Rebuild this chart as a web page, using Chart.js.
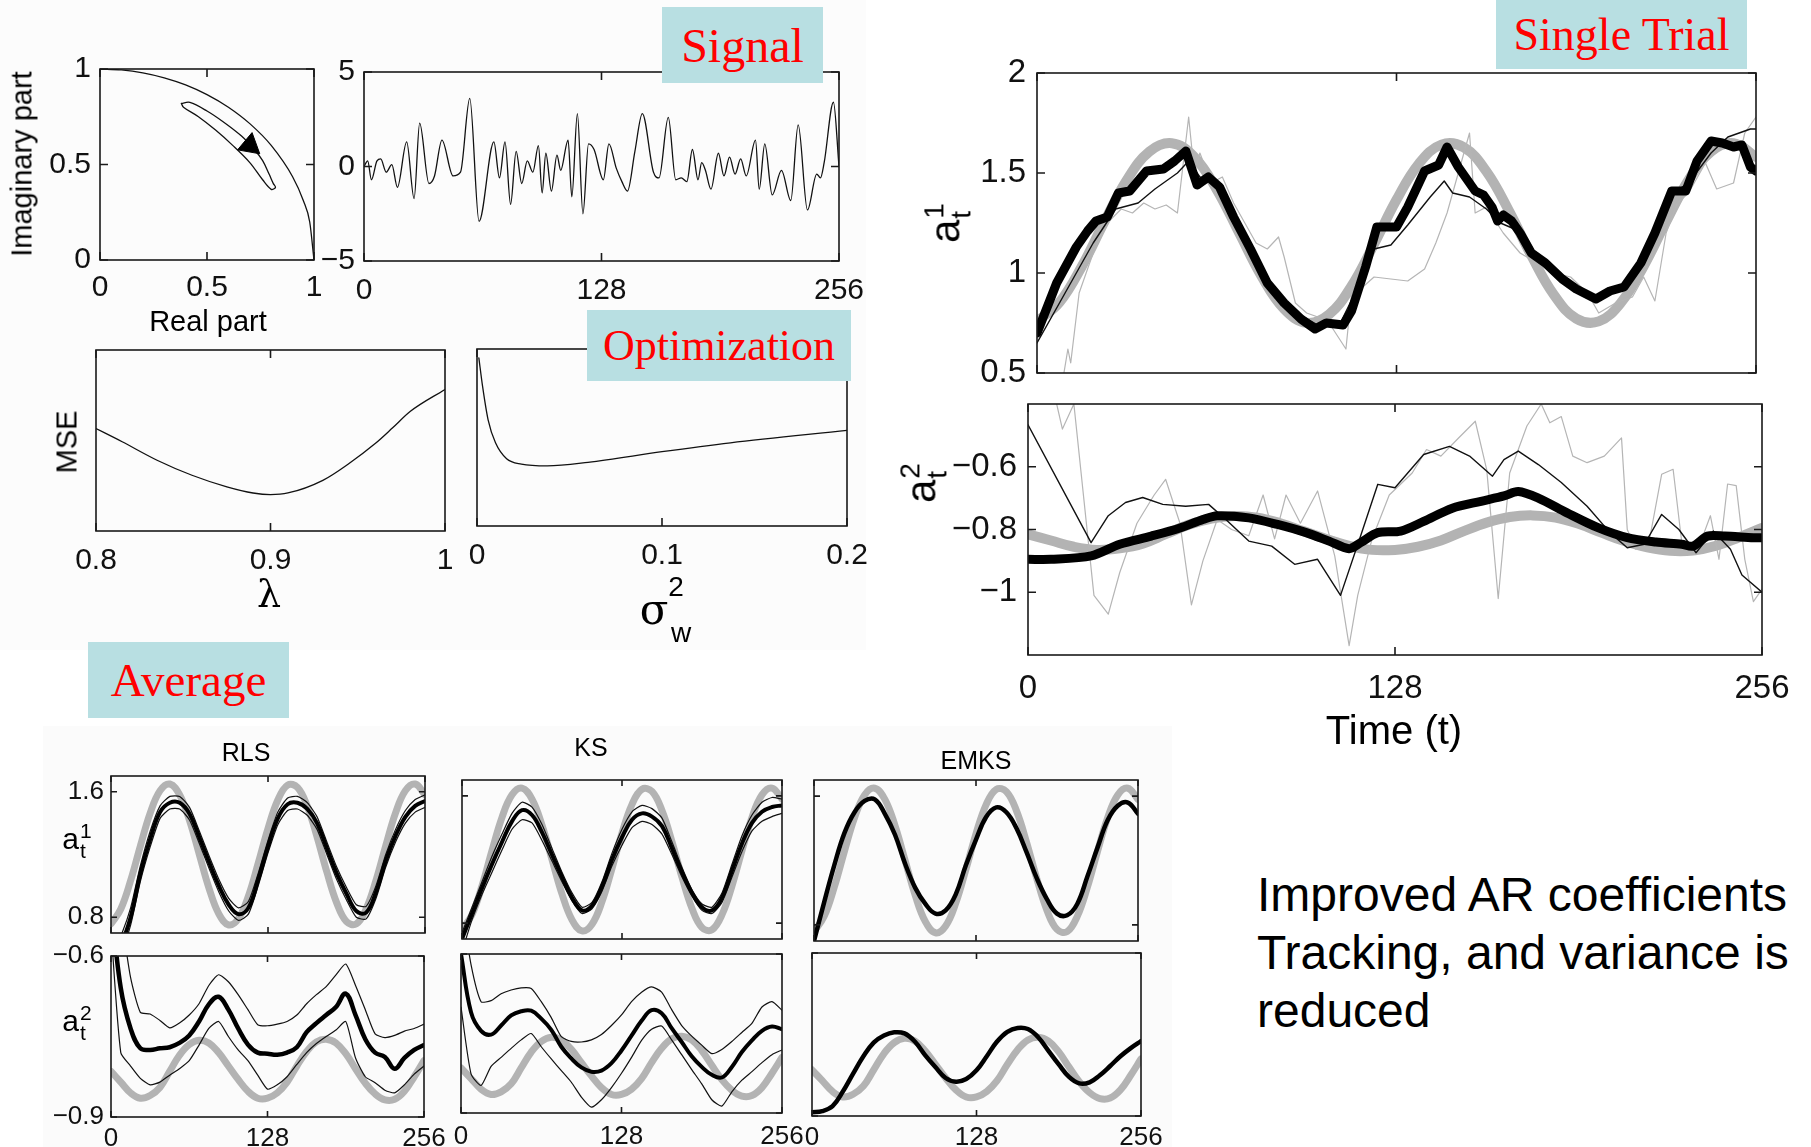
<!DOCTYPE html>
<html>
<head>
<meta charset="utf-8">
<script src="https://cdn.jsdelivr.net/npm/chart.js@4.4.1/dist/chart.umd.min.js"></script>
<style>
html, body { margin: 0; padding: 0; background: #fff; }
#page { position: relative; width: 1811px; height: 1147px; overflow: hidden; font-family: "Liberation Sans", Arial, sans-serif; color: #000; }
.bg { position: absolute; }
.pnl { position: absolute; }
.tag { position: absolute; z-index: 5; background: #b8dfe2; color: #f00; font-family: "Liberation Serif", "Times New Roman", serif; display: flex; align-items: center; justify-content: center; }
.lab { position: absolute; white-space: nowrap; transform: translate(-50%, -50%); line-height: 1; z-index: 4; }
.rot { transform: translate(-50%, -50%) rotate(-90deg); }
.stk { display: inline-flex; flex-direction: column; vertical-align: middle; line-height: 0.95; margin-left: 1px; }
.note { position: absolute; font-size: 48px; line-height: 58px; z-index: 4; }
</style>
</head>
<body>
<div id="page"></div>
<script>
// ---- data ----
const T8 = [0,8,16,24,32,40,48,56,64,72,80,88,96,104,112,120,128,136,144,152,160,168,176,184,192,200,208,216,224,232,240,248,256];

// pole plot
const ARC_X = [0, 0.1, 0.2, 0.3, 0.4, 0.5, 0.6, 0.7, 0.8, 0.9, 0.95, 0.98, 1];
const ARC_Y = [1, 0.995, 0.98, 0.954, 0.917, 0.866, 0.8, 0.714, 0.6, 0.436, 0.312, 0.199, 0];
const LOOP_X = [0.38,0.42,0.50,0.58,0.66,0.72,0.76,0.79,0.81,0.82,0.80,0.76,0.70,0.62,0.54,0.46,0.39,0.38];
const LOOP_Y = [0.82,0.825,0.78,0.72,0.65,0.58,0.52,0.45,0.40,0.38,0.37,0.42,0.51,0.60,0.68,0.75,0.80,0.82];
const ARROW = [0.70, 0.60];

// signal
const SIG_T = [0,2,4,7,9,12,15,18,23,27,30,35,38,42,48,52,57,62,70,73,76,79,82,85,88,91,94,96,98,101,104,106,110,112,115,118,121,124,129,132,136,139,142,146,150,156,159,164,168,171,174,177,180,182,184,187,191,194,197,200,203,206,211,213,216,220,225,230,234,239,244,246,248,253,256];
const SIG_V = [0,0.3,-0.7,0.3,0.4,-0.3,0.1,-1.1,1.3,-1.7,2.3,-0.9,-0.5,1.4,-0.5,-0.3,3.6,-2.9,1.3,-0.6,1.3,-2.0,0.8,-0.9,0.3,-0.3,1.1,-1.4,0.7,-1.3,0.6,-0.2,1.4,-1.6,2.8,-2.5,1.2,0.9,-0.7,1.2,-0.1,-0.8,-1.3,0.8,2.8,-0.3,-0.6,2.6,-0.7,-0.6,-0.8,0.9,-0.7,0.2,-0.2,-1.2,0.7,-0.5,0.5,-0.4,0.4,-0.5,1.4,-1.2,1.2,-1.5,-0.2,-1.8,2.2,-2.3,-0.4,-0.6,0.2,3.4,0.0];

// optimisation curves (MSE in relative units)
const LAMBDA = [0.8,0.815,0.835,0.855,0.875,0.89,0.9,0.91,0.93,0.945,0.96,0.97,0.98,1.0];
const MSE_LAMBDA = [0.566,0.493,0.391,0.308,0.244,0.21,0.201,0.21,0.28,0.373,0.483,0.57,0.66,0.782];
const SIGW = [0.001,0.003,0.006,0.010,0.016,0.024,0.038,0.06,0.1,0.137,0.2];
const MSE_SIGW = [0.95,0.79,0.60,0.47,0.38,0.35,0.34,0.36,0.42,0.47,0.54];

// true coefficients
const TRUE_A1 = [0.758,0.853,1.034,1.256,1.465,1.607,1.649,1.580,1.417,1.2,0.983,0.820,0.751,0.793,0.935,1.144,1.366,1.547,1.642,1.628,1.508,1.312,1.088,0.892,0.772,0.758,0.853,1.034,1.256,1.465,1.607,1.649,1.580];
const TRUE_A2 = [-0.815,-0.835,-0.855,-0.865,-0.86,-0.845,-0.815,-0.785,-0.765,-0.757,-0.762,-0.78,-0.805,-0.83,-0.852,-0.865,-0.865,-0.855,-0.835,-0.805,-0.778,-0.76,-0.755,-0.762,-0.782,-0.81,-0.837,-0.857,-0.868,-0.867,-0.852,-0.825,-0.795];

// single trial a1
const ST1_BOLD_T = [0,7,14,18,21,25,29,33,36,39,45,49,53,57,61,65,70,76,82,88,94,99,103,109,112,117,121,128,132,138,143,146,150,156,159,162,164,166,169,172,176,181,187,192,199,204,209,215,220,226,231,235,240,244,248,251,254,256];
const ST1_BOLD = [0.70,0.95,1.13,1.21,1.26,1.28,1.40,1.41,1.46,1.51,1.52,1.56,1.61,1.44,1.48,1.43,1.28,1.12,0.95,0.85,0.77,0.72,0.75,0.74,0.81,1.03,1.23,1.23,1.33,1.51,1.54,1.63,1.53,1.41,1.39,1.33,1.26,1.29,1.26,1.20,1.10,1.05,0.97,0.92,0.87,0.91,0.93,1.05,1.20,1.41,1.41,1.56,1.66,1.65,1.63,1.64,1.53,1.51];
const ST1_THIN_T = [0,10,20,28,36,42,50,54,58,64,70,80,90,100,108,115,120,126,132,140,145,148,154,160,165,170,176,184,192,200,208,216,224,232,240,246,250,254,256];
const ST1_THIN = [0.65,0.90,1.15,1.32,1.35,1.42,1.50,1.56,1.48,1.44,1.28,1.00,0.82,0.74,0.75,0.95,1.12,1.14,1.24,1.38,1.46,1.40,1.38,1.32,1.25,1.22,1.12,1.00,0.92,0.87,0.92,1.05,1.38,1.45,1.60,1.68,1.70,1.72,1.72];
const ST1_RAW_T = [9,11,12,15,20,25,30,34,38,42,46,50,54,56,58,62,66,70,74,78,82,86,88,92,96,100,104,110,112,116,120,126,132,138,142,146,150,154,156,160,166,172,178,184,190,196,200,206,212,216,220,224,228,232,238,242,248,252,256];
const ST1_RAW = [0.45,0.62,0.55,0.90,1.10,1.25,1.32,1.30,1.35,1.32,1.34,1.30,1.78,1.50,1.60,1.45,1.48,1.35,1.25,1.15,1.12,1.18,1.08,0.85,0.80,0.78,0.75,0.62,0.90,0.93,0.98,0.97,0.96,1.02,1.15,1.30,1.50,1.70,1.30,1.33,1.20,1.10,1.05,1.00,0.98,0.90,0.80,0.85,0.88,0.98,0.86,1.20,1.35,1.40,1.55,1.42,1.45,1.70,1.78];

// single trial a2
const ST2_BOLD_T = [0,8,22,32,43,53,61,66,77,87,97,105,112,116,122,130,138,148,158,166,171,178,188,199,209,219,228,232,237,243,253,256];
const ST2_BOLD = [-0.895,-0.895,-0.884,-0.847,-0.821,-0.795,-0.768,-0.756,-0.763,-0.784,-0.81,-0.837,-0.861,-0.842,-0.81,-0.805,-0.774,-0.732,-0.71,-0.693,-0.679,-0.70,-0.747,-0.795,-0.826,-0.84,-0.847,-0.853,-0.821,-0.821,-0.826,-0.826];
const ST2_THIN_T = [0,22,28,34,40,47,55,63,69,77,85,93,101,109,116,122,128,138,147,154,162,166,171,178,186,195,203,209,215,221,227,233,239,245,249,256];
const ST2_THIN = [-0.466,-0.842,-0.756,-0.714,-0.698,-0.72,-0.726,-0.72,-0.768,-0.837,-0.853,-0.911,-0.895,-1.01,-0.821,-0.656,-0.667,-0.561,-0.535,-0.566,-0.63,-0.577,-0.55,-0.593,-0.65,-0.726,-0.81,-0.858,-0.847,-0.752,-0.80,-0.874,-0.805,-0.863,-0.945,-1.0];
const ST2_RAW_T = [10,12,16,23,28,32,38,44,48,53,57,61,66,71,77,82,86,90,95,101,107,112,115,120,126,134,139,144,150,156,160,164,168,174,179,182,186,190,195,201,207,209,212,217,221,225,228,233,238,241,244,247,250,253,256];
const ST2_RAW = [-0.40,-0.48,-0.40,-1.01,-1.07,-0.937,-0.78,-0.69,-0.64,-0.78,-1.04,-0.90,-0.768,-0.80,-0.82,-0.69,-0.83,-0.69,-0.78,-0.677,-0.885,-1.17,-1.01,-0.83,-0.69,-0.62,-0.545,-0.566,-0.51,-0.455,-0.61,-1.02,-0.62,-0.47,-0.40,-0.46,-0.44,-0.566,-0.587,-0.566,-0.508,-0.80,-0.863,-0.82,-0.624,-0.608,-0.84,-0.88,-0.756,-0.895,-0.655,-0.66,-0.895,-1.03,-0.99];

// averages, a1
const RLS1_MEAN = [0.50,0.62,0.80,1.08,1.30,1.47,1.53,1.53,1.46,1.31,1.15,1.00,0.88,0.82,0.86,1.04,1.25,1.43,1.52,1.53,1.49,1.40,1.24,1.08,0.95,0.84,0.83,0.96,1.16,1.32,1.44,1.51,1.54];
const RLS1_UP = [0.55,0.68,0.86,1.13,1.35,1.51,1.57,1.57,1.50,1.35,1.19,1.04,0.92,0.86,0.90,1.08,1.29,1.47,1.56,1.57,1.53,1.44,1.28,1.12,0.99,0.88,0.87,1.00,1.20,1.36,1.48,1.55,1.58];
const RLS1_LO = [0.45,0.57,0.75,1.03,1.25,1.43,1.49,1.49,1.42,1.27,1.11,0.96,0.84,0.78,0.82,1.00,1.21,1.39,1.48,1.49,1.45,1.36,1.20,1.04,0.91,0.80,0.79,0.92,1.12,1.28,1.40,1.47,1.50];
const KS1_MEAN = [0.70,0.86,1.02,1.17,1.31,1.44,1.51,1.48,1.37,1.23,1.09,0.96,0.88,0.91,1.03,1.20,1.34,1.45,1.49,1.47,1.41,1.27,1.12,0.99,0.90,0.88,0.96,1.13,1.30,1.43,1.50,1.53,1.54];
const KS1_UP = [0.74,0.90,1.06,1.22,1.36,1.49,1.56,1.53,1.42,1.27,1.12,0.99,0.90,0.93,1.06,1.24,1.39,1.50,1.54,1.52,1.46,1.31,1.15,1.01,0.92,0.90,0.99,1.17,1.35,1.48,1.56,1.59,1.58];
const KS1_LO = [0.62,0.82,0.98,1.12,1.26,1.39,1.45,1.43,1.32,1.19,1.06,0.94,0.86,0.89,1.00,1.16,1.29,1.40,1.44,1.42,1.36,1.23,1.09,0.97,0.88,0.86,0.93,1.09,1.25,1.38,1.44,1.47,1.49];
const EM1_MEAN = [0.70,0.94,1.17,1.37,1.50,1.57,1.58,1.49,1.36,1.18,1.03,0.93,0.87,0.89,0.99,1.17,1.33,1.47,1.53,1.50,1.40,1.25,1.09,0.96,0.87,0.86,0.93,1.10,1.28,1.45,1.54,1.56,1.49];

// averages, a2
const RLS2_MEAN = [-0.50,-0.66,-0.735,-0.772,-0.775,-0.772,-0.770,-0.762,-0.748,-0.722,-0.69,-0.676,-0.70,-0.735,-0.765,-0.78,-0.782,-0.784,-0.78,-0.77,-0.742,-0.725,-0.71,-0.695,-0.67,-0.71,-0.755,-0.78,-0.788,-0.81,-0.79,-0.775,-0.766];
const RLS2_UP = [-0.40,-0.52,-0.64,-0.705,-0.708,-0.72,-0.734,-0.725,-0.71,-0.689,-0.655,-0.635,-0.648,-0.672,-0.70,-0.728,-0.73,-0.727,-0.722,-0.71,-0.689,-0.672,-0.657,-0.635,-0.615,-0.655,-0.70,-0.745,-0.752,-0.748,-0.74,-0.735,-0.727];
const RLS2_LO = [-0.55,-0.78,-0.805,-0.828,-0.84,-0.835,-0.822,-0.81,-0.795,-0.766,-0.735,-0.722,-0.75,-0.775,-0.795,-0.822,-0.848,-0.84,-0.825,-0.802,-0.78,-0.763,-0.75,-0.738,-0.722,-0.79,-0.825,-0.836,-0.85,-0.855,-0.84,-0.82,-0.805];
const KS2_MEAN = [-0.60,-0.71,-0.745,-0.752,-0.735,-0.716,-0.708,-0.707,-0.722,-0.743,-0.775,-0.797,-0.814,-0.822,-0.82,-0.806,-0.782,-0.754,-0.726,-0.706,-0.712,-0.74,-0.766,-0.793,-0.813,-0.828,-0.833,-0.813,-0.785,-0.763,-0.745,-0.737,-0.742];
const KS2_UP = [-0.50,-0.62,-0.69,-0.688,-0.675,-0.668,-0.664,-0.665,-0.69,-0.72,-0.756,-0.765,-0.766,-0.762,-0.752,-0.735,-0.715,-0.69,-0.672,-0.662,-0.672,-0.705,-0.735,-0.755,-0.772,-0.788,-0.78,-0.765,-0.748,-0.731,-0.70,-0.69,-0.706];
const KS2_LO = [-0.70,-0.826,-0.848,-0.812,-0.795,-0.778,-0.762,-0.75,-0.775,-0.798,-0.82,-0.842,-0.87,-0.889,-0.875,-0.852,-0.825,-0.795,-0.763,-0.742,-0.736,-0.762,-0.79,-0.818,-0.845,-0.875,-0.887,-0.86,-0.838,-0.822,-0.805,-0.79,-0.781];
const EM2_MEAN = [-0.893,-0.891,-0.882,-0.855,-0.822,-0.79,-0.765,-0.752,-0.746,-0.748,-0.763,-0.788,-0.81,-0.83,-0.837,-0.832,-0.816,-0.79,-0.763,-0.745,-0.738,-0.74,-0.755,-0.78,-0.805,-0.828,-0.84,-0.838,-0.825,-0.808,-0.79,-0.775,-0.762];

// ticks
const T_TICKS = [0, 128, 256];
const UNIT_TICKS = [0, 0.5, 1];
const SIG_TICKS = [-5, 0, 5];
const LAMBDA_TICKS = [0.8, 0.9, 1];
const SIGW_TICKS = [0, 0.1, 0.2];
const ST1_TICKS = [0.5, 1, 1.5, 2];
const ST2_TICKS = [-1, -0.8, -0.6];
const AVG1_TICKS = [0.8, 1.6];
const AVG2_TICKS = [-0.9, -0.6];

// ---- layout helpers ----
const K = 1811 / 1568;
const S = v => Math.round(v * K);
const page = document.getElementById('page');
const FONT = '"Liberation Sans", Arial, sans-serif';

function rect(cls, b, css) {
  const d = document.createElement('div');
  d.className = cls;
  d.style.left = S(b[0]) + 'px';
  d.style.top = S(b[1]) + 'px';
  d.style.width = (S(b[2]) - S(b[0])) + 'px';
  d.style.height = (S(b[3]) - S(b[1])) + 'px';
  Object.assign(d.style, css || {});
  page.appendChild(d);
  return d;
}

function lab(cx, cy, html, size, rot, css) {
  const d = document.createElement('div');
  d.className = 'lab' + (rot ? ' rot' : '');
  d.style.left = S(cx) + 'px';
  d.style.top = S(cy) + 'px';
  d.style.fontSize = size + 'px';
  Object.assign(d.style, css || {});
  d.innerHTML = html;
  page.appendChild(d);
  return d;
}

function atLabel(cx, cy, sup, big, small, rot) {
  lab(cx, cy, '<span>a</span><span class="stk" style="font-size:' + small + 'px"><span>' + sup + '</span><span>t</span></span>', big, rot);
}

// frame with inward ticks on all four sides
const framePlugin = {
  id: 'frame',
  afterDatasetsDraw(chart, args, o) {
    const { ctx, chartArea: a } = chart;
    const x = chart.scales.x, y = chart.scales.y;
    ctx.save();
    ctx.strokeStyle = '#1a1a1a';
    ctx.lineWidth = o.lw;
    ctx.strokeRect(a.left, a.top, a.right - a.left, a.bottom - a.top);
    ctx.beginPath();
    const tl = o.tl;
    (o.xt || []).forEach(v => {
      const p = x.getPixelForValue(v);
      ctx.moveTo(p, a.bottom); ctx.lineTo(p, a.bottom - tl);
      ctx.moveTo(p, a.top); ctx.lineTo(p, a.top + tl);
    });
    (o.yt || []).forEach(v => {
      const p = y.getPixelForValue(v);
      ctx.moveTo(a.left, p); ctx.lineTo(a.left + tl, p);
      ctx.moveTo(a.right, p); ctx.lineTo(a.right - tl, p);
    });
    ctx.stroke();
    ctx.restore();
  }
};

function line(xs, ys, color, width, extra) {
  return Object.assign({
    data: xs.map((x, i) => ({ x: x, y: ys[i] })),
    showLine: true, borderColor: color, borderWidth: width,
    pointRadius: 0, tension: 0, fill: false, clip: 0,
    borderCapStyle: 'round', borderJoinStyle: 'round'
  }, extra || {});
}

function panel(box, c) {
  const L = S(box[0]), T = S(box[1]), R = S(box[2]), B = S(box[3]);
  const lw = 110, bh = 60, pt = 26, pr = 45;
  const w = lw + (R - L) + pr, h = pt + (B - T) + bh;
  const holder = document.createElement('div');
  holder.className = 'pnl';
  holder.style.left = (L - lw) + 'px';
  holder.style.top = (T - pt) + 'px';
  holder.style.width = w + 'px';
  holder.style.height = h + 'px';
  const cv = document.createElement('canvas');
  cv.width = w; cv.height = h;
  holder.appendChild(cv);
  page.appendChild(holder);

  const axis = (range, ticks, show, pad, isX) => ({
    type: 'linear', min: range[0], max: range[1],
    grid: { display: false, drawTicks: false },
    border: { display: false },
    afterBuildTicks: s => { s.ticks = ticks.map(v => ({ value: v })); },
    ticks: {
      display: show, color: '#111', padding: pad, maxRotation: 0, autoSkip: false,
      font: { family: FONT, size: c.fs },
      callback: v => String(v).replace('-', '\u2212')
    },
    afterFit: s => {
      if (isX) s.height = bh; else s.width = lw;
      s.paddingLeft = 0; s.paddingRight = 0; s.paddingTop = 0; s.paddingBottom = 0;
    }
  });

  return new Chart(cv, {
    type: 'scatter',
    data: { datasets: c.sets },
    options: {
      responsive: false, animation: false, devicePixelRatio: 1, events: [],
      layout: { padding: { left: 0, top: pt, right: pr, bottom: 0 } },
      plugins: {
        legend: { display: false }, tooltip: { enabled: false },
        frame: { xt: c.xt, yt: c.yt, lw: c.lw || 1.6, tl: c.tl || 8 }
      },
      scales: {
        x: axis(c.xr, c.xt, c.xl, c.xpad || 10, true),
        y: axis(c.yr, c.yt, c.yl, c.ypad || 8, false)
      }
    },
    plugins: [framePlugin]
  });
}

// ---- backgrounds ----
rect('bg', [0, 0, 750, 563], { background: '#fcfcfc' });
rect('bg', [37, 629, 1015, 993], { background: '#fbfbfb' });

const GRAY = '#b3b3b3', RAW = '#b5b5b5', INK = '#111';

// ---- top-left: pole plot and signal ----
panel([87, 60, 272, 225], {
  xr: [0, 1], yr: [0, 1], xt: UNIT_TICKS, yt: UNIT_TICKS, xl: true, yl: true, fs: 30, xpad: 10, ypad: 9,
  sets: [
    line([ARROW[0]], [ARROW[1]], '#000', 1, { showLine: false, pointRadius: 13, pointStyle: 'triangle', pointRotation: 130, backgroundColor: '#000', pointBorderColor: '#000' }),
    line(LOOP_X, LOOP_Y, INK, 1.3, { tension: 0.35 }),
    line(ARC_X, ARC_Y, INK, 1.3, { cubicInterpolationMode: 'monotone' })
  ]
});
panel([315, 62, 726, 226], {
  xr: [0, 256], yr: [-5, 5], xt: T_TICKS, yt: SIG_TICKS, xl: true, yl: true, fs: 30, xpad: 12, ypad: 9,
  sets: [line(SIG_T, SIG_V, INK, 1.3, { cubicInterpolationMode: 'monotone' })]
});

// ---- optimisation ----
panel([83, 303, 385, 460], {
  xr: [0.8, 1], yr: [0, 1], xt: LAMBDA_TICKS, yt: [], xl: true, yl: false, fs: 30, xpad: 12,
  sets: [line(LAMBDA, MSE_LAMBDA, INK, 1.3, { cubicInterpolationMode: 'monotone' })]
});
panel([413, 302, 733, 455], {
  xr: [0, 0.2], yr: [0, 1], xt: SIGW_TICKS, yt: [], xl: true, yl: false, fs: 30, xpad: 12,
  sets: [line(SIGW, MSE_SIGW, INK, 1.3, { cubicInterpolationMode: 'monotone' })]
});

// ---- single trial ----
panel([898, 63, 1520, 323], {
  xr: [0, 256], yr: [0.5, 2], xt: T_TICKS, yt: ST1_TICKS, xl: false, yl: true, fs: 33, ypad: 11,
  sets: [
    line(ST1_BOLD_T, ST1_BOLD, '#000', 9),
    line(ST1_THIN_T, ST1_THIN, INK, 1.4),
    line(ST1_RAW_T, ST1_RAW, RAW, 1.2),
    line(T8, TRUE_A1, GRAY, 10, { tension: 0.4 })
  ]
});
panel([890, 350, 1526, 567], {
  xr: [0, 256], yr: [-1.2, -0.4], xt: T_TICKS, yt: ST2_TICKS, xl: true, yl: true, fs: 33, xpad: 14, ypad: 11,
  sets: [
    line(ST2_BOLD_T, ST2_BOLD, '#000', 9, { tension: 0.3 }),
    line(ST2_THIN_T, ST2_THIN, INK, 1.4),
    line(ST2_RAW_T, ST2_RAW, RAW, 1.2),
    line(T8, TRUE_A2, GRAY, 10, { tension: 0.4 })
  ]
});

// ---- averages ----
function avgSets(mean, up, lo, truth, meanW) {
  const s = [line(T8, mean, '#000', meanW, { tension: 0.4 })];
  if (up) s.push(line(T8, up, INK, 1.2, { tension: 0.2 }));
  if (lo) s.push(line(T8, lo, INK, 1.2, { tension: 0.2 }));
  s.push(line(T8, truth, GRAY, 7, { tension: 0.4 }));
  return s;
}
panel([96, 672, 368, 808], { xr: [0, 256], yr: [0.7, 1.7], xt: T_TICKS, yt: AVG1_TICKS, xl: false, yl: true, fs: 26, ypad: 7, tl: 6,
  sets: avgSets(RLS1_MEAN, RLS1_UP, RLS1_LO, TRUE_A1, 4) });
panel([96, 828, 367, 967], { xr: [0, 256], yr: [-0.9, -0.6], xt: T_TICKS, yt: AVG2_TICKS, xl: true, yl: true, fs: 26, xpad: 6, ypad: 7, tl: 6,
  sets: avgSets(RLS2_MEAN, RLS2_UP, RLS2_LO, TRUE_A2, 4.5) });
panel([400, 675, 677, 813], { xr: [0, 256], yr: [0.7, 1.7], xt: T_TICKS, yt: AVG1_TICKS, xl: false, yl: false, fs: 26, tl: 6,
  sets: avgSets(KS1_MEAN, KS1_UP, KS1_LO, TRUE_A1, 4) });
panel([399, 826, 677, 964], { xr: [0, 256], yr: [-0.9, -0.6], xt: T_TICKS, yt: AVG2_TICKS, xl: true, yl: false, fs: 26, xpad: 8, tl: 6,
  sets: avgSets(KS2_MEAN, KS2_UP, KS2_LO, TRUE_A2, 4) });
panel([705, 675, 985, 815], { xr: [0, 256], yr: [0.7, 1.7], xt: T_TICKS, yt: AVG1_TICKS, xl: false, yl: false, fs: 26, tl: 6,
  sets: avgSets(EM1_MEAN, null, null, TRUE_A1, 4.5) });
panel([703, 825, 988, 966], { xr: [0, 256], yr: [-0.9, -0.6], xt: T_TICKS, yt: AVG2_TICKS, xl: true, yl: false, fs: 26, xpad: 6, tl: 6,
  sets: avgSets(EM2_MEAN, null, null, TRUE_A2, 4.5) });

// ---- axis titles ----
lab(19, 142, 'Imaginary part', 29, true);
lab(180, 278, 'Real part', 29);
lab(58, 383, 'MSE', 29, true);
lab(233, 514, '\u03bb', 38, false, { fontFamily: '"DejaVu Serif", "Liberation Serif", serif' });
lab(566, 528, '\u03c3', 42, false, { fontFamily: '"DejaVu Serif", "Liberation Serif", serif' });
lab(585, 508, '2', 28);
lab(590, 548, 'w', 28);
atLabel(821, 193, '1', 42, 28, true);
atLabel(800, 418, '2', 42, 28, true);
lab(1207, 632, 'Time (t)', 40);
lab(213, 651, 'RLS', 25);
lab(512, 647, 'KS', 25);
lab(845, 658, 'EMKS', 25);
atLabel(67, 728, '1', 30, 21, false);
atLabel(67, 886, '2', 30, 21, false);

// ---- coloured tags ----
rect('tag', [573, 6, 713, 72], { fontSize: '48px' }).textContent = 'Signal';
rect('tag', [508, 268, 737, 330], { fontSize: '44px' }).textContent = 'Optimization';
rect('tag', [1295, 0, 1513, 60], { fontSize: '46px' }).textContent = 'Single Trial';
rect('tag', [76, 556, 250, 622], { fontSize: '47px' }).textContent = 'Average';

// ---- note ----
const note = document.createElement('div');
note.className = 'note';
note.style.left = S(1088) + 'px';
note.style.top = S(750) + 'px';
note.innerHTML = 'Improved AR coefficients<br>Tracking, and variance is<br>reduced';
page.appendChild(note);
</script>
</body>
</html>
